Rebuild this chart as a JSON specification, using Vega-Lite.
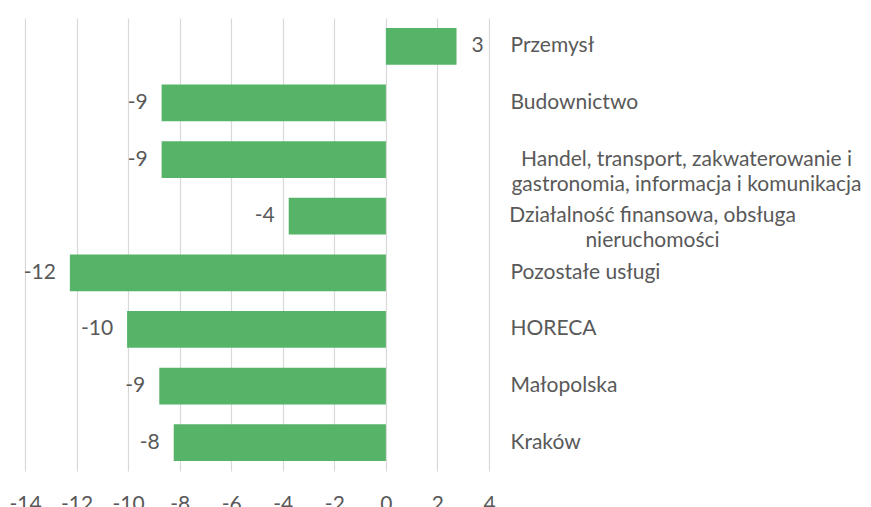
{
  "$schema": "https://vega.github.io/schema/vega-lite/v6.json",
  "width": 464,
  "height": 453,
  "autosize": {"type": "none"},
  "padding": {"left": 25, "top": 18, "right": 382, "bottom": 36},
  "config": {
    "font": "Lato",
    "view": {"stroke": null},
    "locale": {"number": {"decimal": ".", "thousands": ",", "grouping": [3], "currency": ["", ""], "minus": "-"}}
  },
  "data": {
    "values": [
      {"category": "Przemysł", "value": 2.74},
      {"category": "Budownictwo", "value": -8.70},
      {"category": "Handel, transport, zakwaterowanie i gastronomia, informacja i komunikacja", "value": -8.70},
      {"category": "Działalność finansowa, obsługa nieruchomości", "value": -3.77},
      {"category": "Pozostałe usługi", "value": -12.26},
      {"category": "HORECA", "value": -10.04},
      {"category": "Małopolska", "value": -8.79},
      {"category": "Kraków", "value": -8.23}
    ]
  },
  "encoding": {
    "y": {
      "field": "category",
      "type": "nominal",
      "sort": null,
      "scale": {"paddingInner": 0.35, "paddingOuter": 0.175},
      "axis": {
        "orient": "right",
        "title": null,
        "domain": false,
        "ticks": false,
        "tickSize": 0,
        "grid": false,
        "labelFont": "Lato",
        "labelFontSize": 21,
        "labelColor": "#595959",
        "labelLimit": 500,
        "labelLineHeight": 25,
        "labelBaseline": "middle",
        "labelExpr": "datum.value == 'Handel, transport, zakwaterowanie i gastronomia, informacja i komunikacja' ? ['Handel, transport, zakwaterowanie i', 'gastronomia, informacja i komunikacja'] : datum.value == 'Działalność finansowa, obsługa nieruchomości' ? ['Działalność finansowa, obsługa', 'nieruchomości'] : datum.label",
        "labelAlign": {
          "condition": {"test": "indexof(datum.value, 'Handel') == 0 || indexof(datum.value, 'Działalność') == 0", "value": "center"},
          "value": "left"
        },
        "labelPadding": {
          "condition": [
            {"test": "indexof(datum.value, 'Handel') == 0", "value": 197},
            {"test": "indexof(datum.value, 'Działalność') == 0", "value": 163}
          ],
          "value": 21
        }
      }
    }
  },
  "layer": [
    {
      "mark": {"type": "bar", "color": "#55b467"},
      "encoding": {
        "x": {
          "field": "value",
          "type": "quantitative",
          "scale": {"domain": [-14, 4], "nice": false, "zero": false},
          "axis": {
            "title": null,
            "values": [-14, -12, -10, -8, -6, -4, -2, 0, 2, 4],
            "domain": false,
            "ticks": false,
            "tickSize": 0,
            "grid": true,
            "gridColor": "#d9d9d9",
            "gridWidth": 1.2,
            "labelFont": "Lato",
            "labelFontSize": 21,
            "labelColor": "#595959",
            "labelPadding": 22,
            "labelFlush": false,
            "format": "d"
          }
        }
      }
    },
    {
      "transform": [{"filter": "datum.value < 0"}],
      "mark": {"type": "text", "align": "right", "baseline": "middle", "dx": -14, "fontSize": 21, "color": "#595959", "font": "Lato"},
      "encoding": {
        "x": {"field": "value", "type": "quantitative"},
        "text": {"field": "value", "type": "quantitative", "format": ".0f"}
      }
    },
    {
      "transform": [{"filter": "datum.value >= 0"}],
      "mark": {"type": "text", "align": "left", "baseline": "middle", "dx": 15, "fontSize": 21, "color": "#595959", "font": "Lato"},
      "encoding": {
        "x": {"field": "value", "type": "quantitative"},
        "text": {"field": "value", "type": "quantitative", "format": ".0f"}
      }
    }
  ]
}
